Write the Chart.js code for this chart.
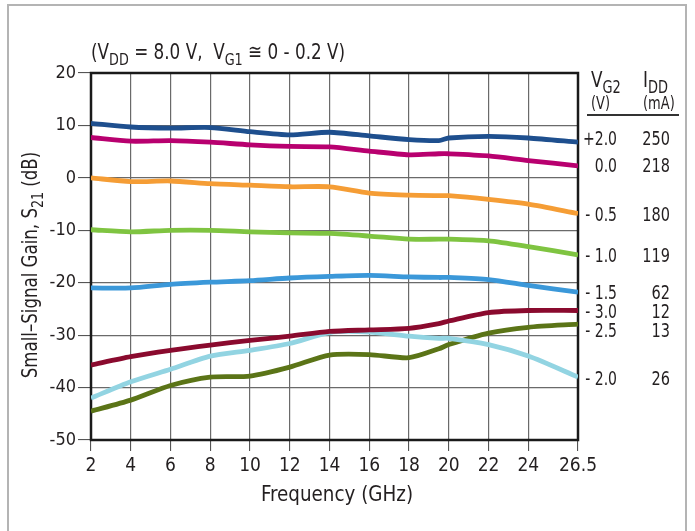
<!DOCTYPE html>
<html><head><meta charset="utf-8">
<script src="https://cdn.jsdelivr.net/npm/chart.js@4/dist/chart.umd.min.js"></script>
<style>html,body{margin:0;padding:0;background:#fff}#wrap{width:695px;height:531px;position:relative}</style>
</head><body><div id="wrap"><canvas id="c" width="695" height="531"></canvas></div>
<script>
// ---- data ----
const freqGHz = [2, 4, 6, 8, 10, 12, 14, 16, 18, 19.5, 20, 22, 24, 26.5];
const xTickValues = [2, 4, 6, 8, 10, 12, 14, 16, 18, 20, 22, 24, 26.5];
const gainVg2p20 = [10.4, 9.7, 9.5, 9.6, 8.8, 8.2, 8.7, 8.0, 7.3, 7.1, 7.6, 7.9, 7.6, 6.8];
const gainVg200 = [7.7, 7.0, 7.1, 6.8, 6.3, 6.0, 5.9, 5.1, 4.4, 4.6, 4.6, 4.2, 3.3, 2.3];
const gainVg2m05 = [0.0, -0.7, -0.6, -1.1, -1.4, -1.7, -1.7, -2.9, -3.3, -3.4, -3.4, -4.1, -5.0, -6.8];
const gainVg2m10 = [-9.9, -10.3, -10.0, -10.0, -10.3, -10.5, -10.6, -11.1, -11.7, -11.7, -11.7, -12.0, -13.1, -14.7];
const gainVg2m15 = [-21.0, -21.0, -20.3, -19.9, -19.6, -19.1, -18.8, -18.6, -18.9, -19.0, -19.0, -19.4, -20.5, -21.8];
const gainVg2m30 = [-35.7, -34.1, -32.9, -31.9, -31.0, -30.2, -29.3, -29.0, -28.7, -27.8, -27.3, -25.7, -25.3, -25.3];
const gainVg2m20 = [-42.0, -38.9, -36.5, -34.0, -32.9, -31.6, -29.5, -29.4, -30.2, -30.6, -30.6, -31.8, -34.0, -38.0];
const gainVg2m25 = [-44.5, -42.4, -39.6, -38.0, -37.8, -36.1, -33.8, -33.7, -34.3, -32.6, -31.8, -29.6, -28.5, -27.9];
const vg2Labels = ['+2.0', '0.0', '- 0.5', '- 1.0', '- 1.5', '- 3.0', '- 2.5', '- 2.0'];
const iddLabels = ['250', '218', '180', '119', '62', '12', '13', '26'];
const labelGain = [7.6, 2.5, -6.8, -14.8, -21.7, -25.3, -29.1, -38.2];

const FONT = '"Liberation Sans Narrow", "DejaVu Sans Condensed", "Arial Narrow", sans-serif';
const TXT = '#231f20';

const series = [
  {d: gainVg2p20, c: '#1e4f8e'},
  {d: gainVg200, c: '#b8006f'},
  {d: gainVg2m05, c: '#f59d35'},
  {d: gainVg2m10, c: '#7fc441'},
  {d: gainVg2m15, c: '#3b98d9'},
  {d: gainVg2m30, c: '#8a0a2e'},
  {d: gainVg2m20, c: '#92d4e2'},
  {d: gainVg2m25, c: '#5b7417'}
];

function drawRich(ctx, parts, x, y, size, align, sx) {
  sx = sx || 1;
  const subSize = Math.round(size * 0.78);
  let w = 0;
  parts.forEach(p => { ctx.font = (p[1] ? subSize : size) + 'px ' + FONT; w += ctx.measureText(p[0]).width; });
  w *= sx;
  const x0 = align === 'center' ? x - w / 2 : (align === 'right' ? x - w : x);
  ctx.save();
  ctx.translate(x0, y);
  ctx.scale(sx, 1);
  ctx.textAlign = 'left';
  ctx.textBaseline = 'alphabetic';
  let cx = 0;
  parts.forEach(p => {
    ctx.font = (p[1] ? subSize : size) + 'px ' + FONT;
    ctx.fillText(p[0], cx, p[1] ? size * 0.28 : 0);
    cx += ctx.measureText(p[0]).width;
  });
  ctx.restore();
}

const decor = {
  id: 'decor',
  beforeDraw(chart) {
    const ctx = chart.ctx;
    ctx.save();
    ctx.strokeStyle = '#b4b4b4';
    ctx.lineWidth = 2;
    ctx.beginPath();
    ctx.moveTo(8, 531); ctx.lineTo(8, 5); ctx.lineTo(686, 5); ctx.lineTo(686, 531);
    ctx.stroke();
    ctx.restore();
  },
  beforeDatasetsDraw(chart) {
    const ctx = chart.ctx, a = chart.chartArea;
    ctx.save();
    ctx.strokeStyle = '#1a1a1a';
    ctx.lineWidth = 2.5;
    ctx.strokeRect(a.left, a.top, a.right - a.left, a.bottom - a.top);
    ctx.restore();
  },
  afterDraw(chart) {
    const ctx = chart.ctx, ys = chart.scales.y;
    ctx.save();
    ctx.fillStyle = TXT;
    // title
    drawRich(ctx, [['(V', 0], ['DD', 1], [' = 8.0 V,  V', 0], ['G1', 1], [' \u2245 0 - 0.2 V)', 0]], 91, 59, 21, 'left', 0.89);
    // x title
    drawRich(ctx, [['Frequency (GHz)', 0]], 337, 501, 21, 'center', 0.97);
    // y title
    ctx.save();
    ctx.translate(37, 265);
    ctx.rotate(-Math.PI / 2);
    drawRich(ctx, [['Small\u2013Signal Gain, S', 0], ['21', 1], [' (dB)', 0]], 0, 0, 21, 'center', 0.88);
    ctx.restore();
    // right header
    drawRich(ctx, [['V', 0], ['G2', 1]], 591, 87, 22, 'left', 0.85);
    drawRich(ctx, [['I', 0], ['DD', 1]], 643, 87, 22, 'left', 0.85);
    drawRich(ctx, [['(V)', 0]], 591, 109, 17, 'left', 0.85);
    drawRich(ctx, [['(mA)', 0]], 643, 109, 17, 'left', 0.85);
    ctx.strokeStyle = '#333';
    ctx.lineWidth = 2;
    ctx.beginPath(); ctx.moveTo(587, 115); ctx.lineTo(679, 115); ctx.stroke();
    for (let i = 0; i < vg2Labels.length; i++) {
      const y = ys.getPixelForValue(labelGain[i]) + 7;
      drawRich(ctx, [[vg2Labels[i], 0]], 617, y, 19, 'right', 0.82);
      drawRich(ctx, [[iddLabels[i], 0]], 670, y, 19, 'right', 0.85);
    }
    ctx.restore();
  }
};

new Chart(document.getElementById('c'), {
  type: 'line',
  data: {
    datasets: series.map(s => ({
      data: freqGHz.map((f, i) => ({x: f, y: s.d[i]})),
      borderColor: s.c,
      borderWidth: 4.8,
      pointRadius: 0,
      tension: 0.25,
      fill: false,
      borderCapStyle: 'butt',
      borderJoinStyle: 'round'
    }))
  },
  options: {
    responsive: false,
    animation: false,
    layout: {padding: {left: 0, right: 117, top: 73, bottom: 0}},
    plugins: {legend: {display: false}, tooltip: {enabled: false}},
    scales: {
      x: {
        type: 'linear', min: 2, max: 26.5,
        afterBuildTicks: sc => { sc.ticks = xTickValues.map(v => ({value: v})); },
        afterFit: sc => { sc.height = 91; },
        border: {display: false},
        grid: {color: '#6a6a6a', lineWidth: 1.2, tickColor: '#444', tickLength: 11, tickWidth: 1},
        ticks: {color: TXT, font: {family: FONT, size: 19}, padding: 4, maxRotation: 0, autoSkip: false,
          callback: v => String(v)}
      },
      y: {
        min: -50, max: 20,
        afterFit: sc => { sc.width = 91; },
        border: {display: false},
        grid: {color: '#6a6a6a', lineWidth: 1.2, tickColor: '#444', tickLength: 13, tickWidth: 1},
        ticks: {stepSize: 10, color: TXT, font: {family: FONT, size: 18}, padding: 2}
      }
    }
  },
  plugins: [decor]
});
</script></body></html>
